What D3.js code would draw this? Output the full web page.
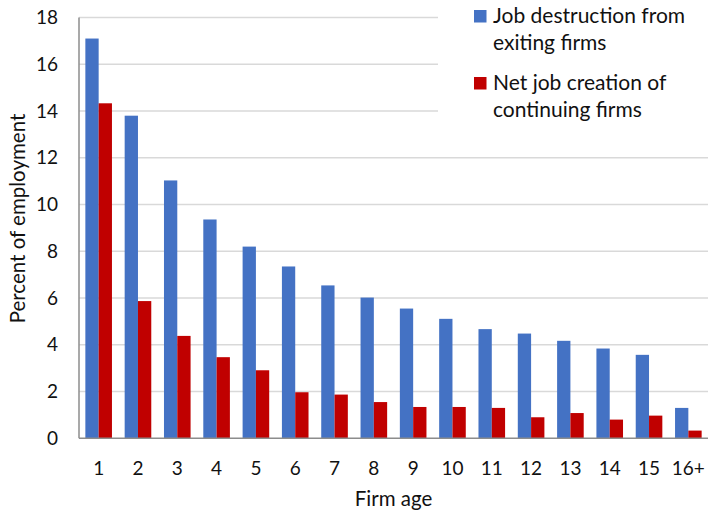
<!DOCTYPE html>
<html>
<head>
<meta charset="utf-8">
<script src="https://cdn.jsdelivr.net/npm/d3@7"></script>
<style>
  html, body { margin: 0; padding: 0; background: #fff; }
  svg { display: block; }
  text { font-family: Lato, "Open Sans", sans-serif; fill: #111; }
</style>
</head>
<body>
<svg id="chart" width="709" height="511"></svg>
<script>
// Firm age categories
const ages = ["1","2","3","4","5","6","7","8","9","10","11","12","13","14","15","16+"];
// Job destruction from exiting firms (percent of employment)
const destruction = [17.1, 13.8, 11.03, 9.36, 8.2, 7.35, 6.54, 6.02, 5.55, 5.11, 4.67, 4.48, 4.17, 3.84, 3.57, 1.3];
// Net job creation of continuing firms (percent of employment)
const netCreation = [14.33, 5.87, 4.38, 3.47, 2.91, 1.97, 1.87, 1.55, 1.34, 1.34, 1.3, 0.9, 1.08, 0.8, 0.97, 0.33];
const yTicks = [0, 2, 4, 6, 8, 10, 12, 14, 16, 18];
const seriesNames = [["Job destruction from", "exiting firms"], ["Net job creation of", "continuing firms"]];
const colors = ["#4472C4", "#C00000"];

const svg = d3.select("#chart");
const plotL = 79, plotR = 708, plotT = 17.5, plotB = 438.3;

const x = d3.scaleBand().domain(ages).range([plotL, plotR]).paddingInner(0).paddingOuter(0);
const bw = 13.3;
const y = d3.scaleLinear().domain([0, 18]).range([plotB, plotT]);

// gridlines (top ones stop short of the legend)
svg.append("g").selectAll("line").data(yTicks.filter(t => t > 0)).join("line")
  .attr("x1", plotL).attr("x2", t => t >= 14 ? 438 : plotR)
  .attr("y1", t => y(t)).attr("y2", t => y(t))
  .attr("stroke", "#d9d9d9").attr("stroke-width", 1.5);

// bars
const groups = svg.append("g").selectAll("g").data(ages).join("g");
groups.append("rect")
  .attr("x", d => x(d) + x.bandwidth() / 2 - bw)
  .attr("width", bw)
  .attr("y", (d, i) => y(destruction[i]))
  .attr("height", (d, i) => y(0) - y(destruction[i]))
  .attr("fill", colors[0]);
groups.append("rect")
  .attr("x", d => x(d) + x.bandwidth() / 2)
  .attr("width", bw)
  .attr("y", (d, i) => y(netCreation[i]))
  .attr("height", (d, i) => y(0) - y(netCreation[i]))
  .attr("fill", colors[1]);

// axis lines
svg.append("line").attr("x1", plotL).attr("x2", plotL).attr("y1", plotT).attr("y2", plotB)
  .attr("stroke", "#8c8c8c").attr("stroke-width", 1.5);
svg.append("line").attr("x1", plotL).attr("x2", plotR).attr("y1", plotB).attr("y2", plotB)
  .attr("stroke", "#8c8c8c").attr("stroke-width", 1.5);

// y tick labels
const yAxis = d3.axisLeft(y).tickValues(yTicks).tickSize(0).tickPadding(0);
const gy = svg.append("g").attr("transform", `translate(${plotL - 21},0)`).call(yAxis);
gy.select(".domain").remove();
gy.selectAll("text").style("font-size", "19px").attr("fill", "#111")
  .style("font-family", "Lato, sans-serif");

// x tick labels
const xAxis = d3.axisBottom(x).tickSize(0).tickPadding(0);
const gx = svg.append("g").attr("transform", `translate(0,${plotB + 23.5})`).call(xAxis);
gx.select(".domain").remove();
gx.selectAll("text").style("font-size", "19px").attr("fill", "#111")
  .style("font-family", "Lato, sans-serif");

// axis titles
svg.append("text").attr("x", (plotL + plotR) / 2).attr("y", 506)
  .attr("text-anchor", "middle").style("font-size", "20.5px").text("Firm age");
svg.append("text").attr("transform", `translate(25,218.5) rotate(-90)`)
  .attr("text-anchor", "middle").style("font-size", "20.5px").text("Percent of employment");

// legend
const legend = svg.append("g").attr("transform", "translate(474,0)");
seriesNames.forEach((lines, i) => {
  const g = legend.append("g").attr("transform", `translate(0,${i * 67})`);
  g.append("rect").attr("x", 0).attr("y", 10).attr("width", 12.5).attr("height", 12.5).attr("fill", colors[i]);
  lines.forEach((t, j) => {
    g.append("text").attr("x", 19).attr("y", 23.3 + j * 27).style("font-size", "21px").text(t);
  });
});
</script>
</body>
</html>
